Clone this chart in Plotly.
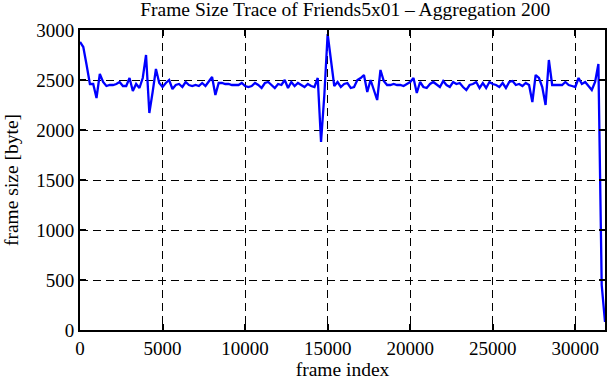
import numpy as np
import plotly.graph_objects as go

# frame index (aggregation of 200 frames)
frame_index = list(range(0, 31801, 200))

frame_size = [
    # 0 - 5200
    2880, 2830, 2650, 2460, 2460, 2320, 2560, 2480, 2440, 2450,
    2450, 2460, 2480, 2440, 2440, 2520, 2390, 2460, 2420, 2520,
    2750, 2170, 2380, 2610, 2470, 2430, 2470,
    # 5400 - 10600
    2500, 2410, 2450, 2460, 2430, 2480, 2450, 2440, 2450, 2440,
    2470, 2440, 2480, 2530, 2350, 2470, 2470, 2460, 2460, 2450,
    2450, 2450, 2470, 2440, 2430, 2440, 2470,
    # 10800 - 16200
    2450, 2420, 2470, 2480, 2450, 2420, 2460, 2450, 2500, 2420,
    2480, 2440, 2470, 2450, 2430, 2460, 2440, 2430, 2520, 1880,
    2350, 2960, 2700, 2440, 2480, 2430, 2460, 2470,
    # 16400 - 21600
    2420, 2430, 2500, 2520, 2550, 2380, 2500, 2400, 2300, 2600,
    2490, 2450, 2450, 2460, 2450, 2450, 2440, 2460, 2480, 2520,
    2370, 2480, 2430, 2420, 2460, 2480, 2450,
    # 21800 - 27000
    2430, 2490, 2450, 2430, 2480, 2460, 2470, 2430, 2400, 2450,
    2460, 2480, 2420, 2470, 2420, 2480, 2460, 2450, 2430, 2470,
    2420, 2480, 2490, 2450, 2460, 2440, 2470,
    # 27200 - 31800
    2450, 2280, 2550, 2520, 2430, 2250, 2700, 2450, 2450, 2450,
    2450, 2480, 2450, 2440, 2430, 2520, 2460, 2480, 2440, 2400,
    2480, 2660, 450, 80,
]

x_ticks = [0, 5000, 10000, 15000, 20000, 25000, 30000]
y_ticks = [0, 500, 1000, 1500, 2000, 2500, 3000]

font_family = "Liberation Serif, Times New Roman, serif"

fig = go.Figure()
fig.add_trace(go.Scatter(
    x=frame_index[:len(frame_size)], y=frame_size, mode="lines",
    line=dict(color="#0000ff", width=2.3), showlegend=False,
))

axis_common = dict(
    showline=True, linecolor="black", linewidth=2, mirror="ticks",
    ticks="inside", ticklen=6, tickwidth=2, tickcolor="black",
    showgrid=True, gridcolor="black", gridwidth=1, griddash="8px,5px",
    zeroline=False,
    tickfont=dict(family=font_family, size=19, color="black"),
)

fig.update_layout(
    width=611, height=380,
    margin=dict(l=80, r=4, t=30, b=50),
    paper_bgcolor="white", plot_bgcolor="white",
    title=dict(
        text="Frame Size Trace of Friends5x01 \u2013 Aggregation 200",
        font=dict(family=font_family, size=19.5, color="black"),
        x=0.565, xanchor="center", y=0.995, yanchor="top",
    ),
    xaxis=dict(
        range=[0, 31800], tickvals=x_ticks,
        ticktext=[str(v) for v in x_ticks],
        title=dict(text="frame index", standoff=4,
                   font=dict(family=font_family, size=19.5, color="black")),
        **axis_common,
    ),
    yaxis=dict(
        range=[0, 3000], tickvals=y_ticks,
        ticktext=[str(v) for v in y_ticks],
        title=dict(text="frame size [byte]", standoff=12,
                   font=dict(family=font_family, size=19.5, color="black")),
        **axis_common,
    ),
)

fig.write_html("out.html")
